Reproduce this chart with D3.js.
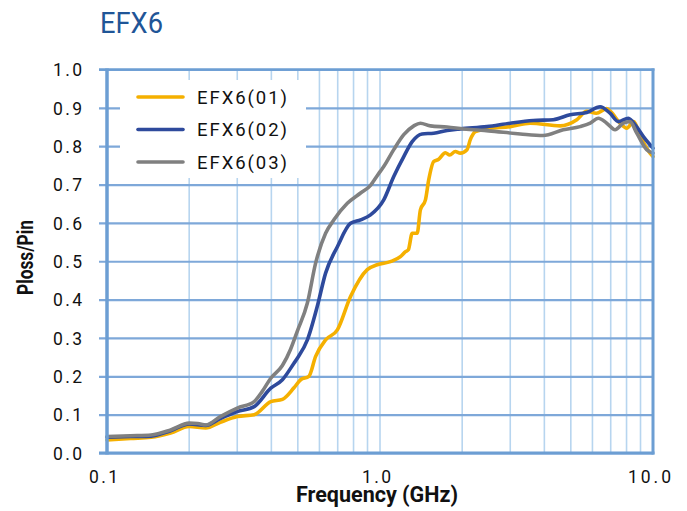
<!DOCTYPE html>
<html><head><meta charset="utf-8">
<script src="https://cdn.jsdelivr.net/npm/d3@7"></script>
<style>body{margin:0;background:#fff;} svg{display:block;font-family:Roboto,"Noto Sans",sans-serif;}</style>
</head><body>
<svg id="c" width="687" height="511"></svg>
<script>
// ---- data ----
const chartTitle = "EFX6";
const xTitle = "Frequency (GHz)";
const yTitle = "Ploss/Pin";
const seriesNames = ["EFX6(01)", "EFX6(02)", "EFX6(03)"];
const seriesColors = ["#F5B000", "#2E4A9C", "#808080"];

const freq01 = [0.1,0.122,0.145,0.171,0.2,0.23,0.26,0.3,0.346,0.398,0.439,0.484,0.512,0.549,0.581,0.632,0.698,0.78,0.898,0.977,1.092,1.188,1.24,1.27,1.312,1.368,1.406,1.467,1.508,1.573,1.641,1.736,1.8,1.888,1.968,2.083,2.142,2.235,2.464,3.0,3.55,4.57,5.26,5.72,6.2,6.77,7.0,7.57,8.01,8.5,9.0,9.75,10];
const ploss01 = [0.034,0.038,0.041,0.052,0.069,0.065,0.08,0.095,0.1,0.134,0.14,0.17,0.191,0.2,0.252,0.295,0.321,0.408,0.478,0.491,0.499,0.512,0.525,0.53,0.573,0.573,0.634,0.66,0.712,0.76,0.766,0.783,0.777,0.786,0.782,0.791,0.817,0.838,0.845,0.851,0.86,0.853,0.869,0.891,0.886,0.898,0.89,0.86,0.847,0.864,0.825,0.782,0.773];

const freq02 = [0.1,0.122,0.145,0.171,0.2,0.23,0.26,0.3,0.346,0.398,0.439,0.484,0.498,0.542,0.589,0.632,0.698,0.78,0.849,0.923,1.032,1.123,1.222,1.312,1.426,1.573,1.761,1.968,2.464,3.0,3.64,4.31,4.97,5.72,6.4,6.96,7.47,8.12,8.7,9.22,10];
const ploss02 = [0.041,0.043,0.044,0.058,0.076,0.072,0.09,0.108,0.121,0.169,0.191,0.234,0.247,0.295,0.382,0.469,0.538,0.599,0.608,0.621,0.66,0.721,0.773,0.812,0.832,0.834,0.841,0.845,0.851,0.86,0.867,0.869,0.882,0.888,0.903,0.886,0.864,0.873,0.851,0.825,0.795];

const freq03 = [0.1,0.122,0.145,0.171,0.2,0.215,0.23,0.26,0.3,0.346,0.37,0.398,0.439,0.47,0.498,0.542,0.581,0.632,0.678,0.759,0.849,0.923,0.949,1.004,1.032,1.123,1.222,1.33,1.406,1.53,1.761,2.024,2.5,3.265,3.96,4.69,5.41,5.89,6.31,6.77,7.26,7.79,8.24,8.72,9.48,10];
const ploss03 = [0.043,0.045,0.047,0.06,0.078,0.077,0.073,0.095,0.117,0.134,0.16,0.195,0.228,0.27,0.318,0.391,0.495,0.573,0.608,0.651,0.678,0.698,0.71,0.735,0.747,0.791,0.83,0.853,0.86,0.853,0.85,0.845,0.84,0.832,0.828,0.843,0.851,0.86,0.873,0.86,0.843,0.86,0.864,0.834,0.791,0.782];

const yTickValues = [0,0.1,0.2,0.3,0.4,0.5,0.6,0.7,0.8,0.9,1.0];
const xTickValues = [0.1, 1, 10];
const xTickLabels = ["0.1", "1.0", "10.0"];
const xMinorGrid = [0.2,0.3,0.4,0.5,0.6,0.7,0.8,0.9,1,2,3,4,5,6,7,8,9];

// ---- layout ----
const svg = d3.select("#c");
const pLeft = 107, pRight = 653, pTop = 69.5, pBottom = 453;
const x = d3.scaleLog().domain([0.1, 10]).range([pLeft, pRight]);
const y = d3.scaleLinear().domain([0, 1]).range([pBottom, pTop]);

const gridMajor = "#7EA8D9", gridMinor = "#B7D5EF", axisCol = "#6C9ED3";

// vertical minor grid
svg.append("g").selectAll("line").data(xMinorGrid).join("line")
  .attr("x1", d => x(d)).attr("x2", d => x(d))
  .attr("y1", y(1)).attr("y2", y(0))
  .attr("stroke", gridMinor).attr("stroke-width", 1.6);

// horizontal grid + left ticks via axis
const yAxis = d3.axisLeft(y).tickValues(yTickValues).tickFormat(d3.format(".1f"))
  .tickSize(8).tickPadding(17);
const gy = svg.append("g").attr("transform", `translate(${pLeft},0)`).call(yAxis);
gy.select(".domain").remove();
gy.selectAll(".tick line").attr("stroke", gridMajor).attr("stroke-width", 2.2)
  .attr("x2", -8).attr("x1", pRight - pLeft);
gy.selectAll(".tick text").attr("fill", "#111").attr("font-size", 17.5)
  .attr("font-family", "Roboto").attr("textLength", 29).attr("lengthAdjust", "spacing")
  .attr("dy", "0.36em");

// legend box
const legX = 120, legY = 80;
svg.append("rect").attr("x", legX).attr("y", legY).attr("width", 186).attr("height", 98).attr("fill", "#fff");

// series lines
const line = d3.line().x(d => x(d[0])).y(d => y(d[1])).curve(d3.curveMonotoneX);
const series = [
  d3.zip(freq01, ploss01),
  d3.zip(freq02, ploss02),
  d3.zip(freq03, ploss03)
];
svg.append("g").selectAll("path").data(series).join("path")
  .attr("d", line).attr("fill", "none")
  .attr("stroke", (d, i) => seriesColors[i]).attr("stroke-width", 3.6)
  .attr("stroke-linejoin", "round").attr("stroke-linecap", "round");

// plot border
svg.append("line").attr("x1", pLeft - 8).attr("x2", pRight + 1.5).attr("y1", y(1)).attr("y2", y(1)).attr("stroke", axisCol).attr("stroke-width", 2.5);
svg.append("line").attr("x1", pLeft - 8).attr("x2", pRight + 1.5).attr("y1", y(0)).attr("y2", y(0)).attr("stroke", axisCol).attr("stroke-width", 3);
svg.append("line").attr("x1", pLeft).attr("x2", pLeft).attr("y1", y(1) - 1).attr("y2", y(0) + 1.5).attr("stroke", axisCol).attr("stroke-width", 3.5);
svg.append("line").attr("x1", pRight).attr("x2", pRight).attr("y1", y(1) - 1).attr("y2", y(0) + 1.5).attr("stroke", axisCol).attr("stroke-width", 3);

// x tick labels
svg.append("g").selectAll("text").data(xTickValues).join("text")
  .attr("x", d => x(d) - 3.5).attr("y", 483)
  .attr("text-anchor", "middle").attr("font-size", 17.5).attr("fill", "#111")
  .attr("textLength", (d, i) => xTickLabels[i].length === 4 ? 43 : 29).attr("lengthAdjust", "spacing")
  .text((d, i) => xTickLabels[i]);

// legend entries
const leg = svg.append("g").selectAll("g").data(seriesNames).join("g")
  .attr("transform", (d, i) => `translate(0,${97 + i * 32.5})`);
leg.append("line").attr("x1", 138).attr("x2", 183).attr("y1", 0).attr("y2", 0)
  .attr("stroke", (d, i) => seriesColors[i]).attr("stroke-width", 3.6).attr("stroke-linecap", "round");
leg.append("text").attr("x", 197).attr("y", 6.7).attr("font-size", 18.5).attr("fill", "#111")
  .attr("textLength", 90).attr("lengthAdjust", "spacing").text(d => d);

// titles
svg.append("text").attr("x", 100).attr("y", 33.3).attr("font-size", 30).attr("fill", "#1F5597")
  .attr("textLength", 63).attr("lengthAdjust", "spacingAndGlyphs").text(chartTitle);
svg.append("text").attr("x", 377).attr("y", 501.7).attr("text-anchor", "middle")
  .attr("font-size", 21.5).attr("font-weight", "bold").attr("fill", "#111")
  .attr("textLength", 162).attr("lengthAdjust", "spacingAndGlyphs").text(xTitle);
svg.append("text").attr("transform", "translate(33,257.5) rotate(-90)").attr("text-anchor", "middle")
  .attr("font-size", 21.5).attr("font-weight", "bold").attr("fill", "#111")
  .attr("textLength", 75).attr("lengthAdjust", "spacingAndGlyphs").text(yTitle);
</script>
</body></html>
